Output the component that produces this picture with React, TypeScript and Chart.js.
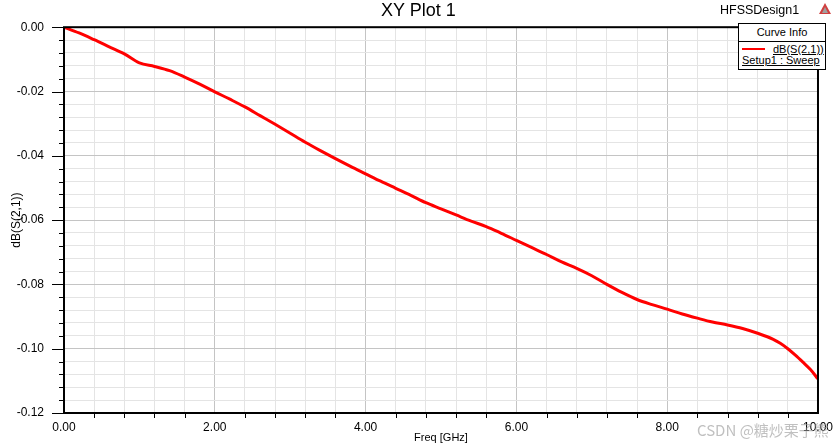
import React, { useEffect, useRef } from "react";
import { Chart, registerables } from "chart.js";

Chart.register(...registerables);

// ---- data ----
const freqGHz = [
  0, 0.2, 0.4, 0.6, 0.8, 1.0, 1.2, 1.4, 1.6, 1.8,
  2.0, 2.2, 2.4, 2.6, 2.8, 3.0, 3.2, 3.4, 3.6, 3.8,
  4.0, 4.2, 4.4, 4.6, 4.8, 5.0, 5.2, 5.4, 5.6, 5.8,
  6.0, 6.2, 6.4, 6.6, 6.8, 7.0, 7.2, 7.4, 7.6, 7.8,
  8.0, 8.2, 8.4, 8.6, 8.8, 9.0, 9.2, 9.4, 9.5, 9.6,
  9.7, 9.8, 9.9, 10.0,
];
const dbS21 = [
  0, -0.0018, -0.0039, -0.0061, -0.0083, -0.0111, -0.0122, -0.0135, -0.0155, -0.0177,
  -0.0201, -0.0224, -0.0248, -0.0275, -0.0302, -0.0330, -0.0358, -0.0384, -0.0409, -0.0433,
  -0.0456, -0.0479, -0.0501, -0.0523, -0.0546, -0.0565, -0.0584, -0.0603, -0.0620, -0.0641,
  -0.0663, -0.0685, -0.0707, -0.0730, -0.0750, -0.0773, -0.0800, -0.0825, -0.0847, -0.0863,
  -0.0877, -0.0892, -0.0905, -0.0917, -0.0926, -0.0937, -0.0952, -0.0970, -0.0983, -0.1000,
  -0.1020, -0.1042, -0.1065, -0.1094,
];

// tick labels (major) and minor tick steps
const xMajorTicks = [0, 2, 4, 6, 8, 10];
const yMajorTicks = [0, -0.02, -0.04, -0.06, -0.08, -0.1, -0.12];
const xMinorStep = 0.4;
const yMinorStep = 0.004;

const X_MIN = 0;
const X_MAX = 10;
const Y_MIN = -0.12;
const Y_MAX = 0;

const xTickValues: number[] = [];
for (let i = 0; i <= Math.round((X_MAX - X_MIN) / xMinorStep); i++) {
  xTickValues.push(Number((X_MIN + i * xMinorStep).toFixed(4)));
}
const yTickValues: number[] = [];
for (let i = 0; i <= Math.round((Y_MAX - Y_MIN) / yMinorStep); i++) {
  yTickValues.push(Number((Y_MAX - i * yMinorStep).toFixed(4)));
}

const isMajor = (v: number, majors: number[]) =>
  majors.some((m) => Math.abs(m - v) < 1e-7);

const FONT = "'Liberation Sans', Arial, sans-serif";
const MAJOR_GRID = "#c4c4c4";
const MINOR_GRID = "#e4e4e4";

const framePlugin = {
  id: "hfssFrame",
  afterDraw(chart: any) {
    const { ctx, chartArea: a, scales } = chart;
    ctx.save();
    ctx.strokeStyle = "#000";
    ctx.lineWidth = 1;
    for (const v of yTickValues) {
      const py = Math.round(scales.y.getPixelForValue(v)) + 0.5;
      const len = isMajor(v, yMajorTicks) ? 12 : 5;
      ctx.beginPath();
      ctx.moveTo(a.left - len, py);
      ctx.lineTo(a.left, py);
      ctx.stroke();
    }
    for (const v of xTickValues) {
      if (isMajor(v, xMajorTicks)) continue;
      const px = Math.round(scales.x.getPixelForValue(v)) + 0.5;
      ctx.beginPath();
      ctx.moveTo(px, a.bottom);
      ctx.lineTo(px, a.bottom + 5);
      ctx.stroke();
    }
    ctx.lineWidth = 2;
    ctx.strokeRect(a.left, a.top, a.right - a.left, a.bottom - a.top);
    ctx.restore();
  },
};

export default function App() {
  const canvasRef = useRef<HTMLCanvasElement | null>(null);

  useEffect(() => {
    if (!canvasRef.current) return;
    const chart = new Chart(canvasRef.current, {
      type: "line",
      data: {
        datasets: [
          {
            label: "dB(S(2,1))",
            data: freqGHz.map((f, i) => ({ x: f, y: dbS21[i] })),
            borderColor: "#ff0000",
            borderWidth: 3,
            pointRadius: 0,
            cubicInterpolationMode: "monotone",
            fill: false,
          },
        ],
      },
      options: {
        responsive: false,
        animation: false,
        layout: { padding: { top: 25, right: 22, left: 0, bottom: 0 } },
        plugins: {
          legend: { display: false },
          title: { display: false },
          tooltip: { enabled: false },
        },
        scales: {
          x: {
            type: "linear",
            min: X_MIN,
            max: X_MAX,
            afterBuildTicks: (scale: any) => {
              scale.ticks = xTickValues.map((value) => ({ value }));
            },
            afterFit: (scale: any) => {
              scale.height = 34;
            },
            border: { display: false },
            grid: {
              drawTicks: false,
              lineWidth: 1,
              color: (c: any) =>
                isMajor(c.tick?.value ?? 0, xMajorTicks) ? MAJOR_GRID : MINOR_GRID,
            },
            ticks: {
              autoSkip: false,
              maxRotation: 0,
              padding: 7,
              color: "#000",
              font: { family: FONT, size: 12 },
              callback: (v: any) =>
                isMajor(Number(v), xMajorTicks) ? Number(v).toFixed(2) : "",
            },
            title: {
              display: true,
              text: "Freq [GHz]",
              color: "#000",
              font: { family: FONT, size: 11 },
              padding: { top: 0, bottom: 2 },
            },
          },
          y: {
            type: "linear",
            min: Y_MIN,
            max: Y_MAX,
            afterBuildTicks: (scale: any) => {
              scale.ticks = yTickValues.map((value) => ({ value }));
            },
            afterFit: (scale: any) => {
              scale.width = 64;
            },
            border: { display: false },
            grid: {
              drawTicks: false,
              lineWidth: 1,
              color: (c: any) =>
                isMajor(c.tick?.value ?? 0, yMajorTicks) ? MAJOR_GRID : MINOR_GRID,
            },
            ticks: {
              autoSkip: false,
              padding: 20,
              color: "#000",
              font: { family: FONT, size: 12 },
              callback: (v: any) =>
                isMajor(Number(v), yMajorTicks) ? Number(v).toFixed(2) : "",
            },
            title: {
              display: true,
              text: "dB(S(2,1))",
              color: "#000",
              font: { family: FONT, size: 12 },
              padding: { top: 9, bottom: 0 },
            },
          },
        },
      },
      plugins: [framePlugin],
    } as any);
    return () => chart.destroy();
  }, []);

  const txt: React.CSSProperties = {
    position: "absolute",
    whiteSpace: "nowrap",
    fontFamily: FONT,
    color: "#000",
  };

  return (
    <div
      style={{
        position: "absolute",
        left: 0,
        top: 0,
        width: 840,
        height: 447,
        background: "#fff",
        overflow: "hidden",
      }}
    >
      <canvas ref={canvasRef} width={840} height={447} style={{ display: "block" }} />
      <div style={{ ...txt, left: 381, top: 0, fontSize: 18, lineHeight: "21px" }}>XY Plot 1</div>
      <div style={{ ...txt, left: 720, top: 3, fontSize: 12.5, lineHeight: "15px" }}>HFSSDesign1</div>
      <svg
        style={{ position: "absolute", left: 819, top: 3 }}
        width={12}
        height={11}
        viewBox="0 0 12 11"
      >
        <polygon points="6,0 12,11 0,11" fill="#d04040" />
        <polygon points="6,4 9,10 3,10" fill="#a0a0a0" />
      </svg>
      <div
        style={{
          position: "absolute",
          left: 738,
          top: 23,
          width: 88,
          height: 47,
          boxSizing: "border-box",
          border: "1px solid #000",
          background: "#fff",
        }}
      >
        <div
          style={{
            ...txt,
            left: 0,
            width: 86,
            top: 2,
            fontSize: 11,
            lineHeight: "13px",
            textAlign: "center",
          }}
        >
          Curve Info
        </div>
        <div style={{ position: "absolute", left: 0, top: 17, width: 86, height: 1, background: "#000" }} />
        <div style={{ position: "absolute", left: 3, top: 24, width: 23, height: 2, background: "#ff0000" }} />
        <div
          style={{
            ...txt,
            left: 34,
            top: 19,
            fontSize: 11,
            lineHeight: "13px",
            textDecoration: "underline",
          }}
        >
          dB(S(2,1))
        </div>
        <div
          style={{
            ...txt,
            left: 3,
            top: 30,
            fontSize: 11,
            lineHeight: "13px",
            textDecoration: "underline",
          }}
        >
          Setup1 : Sweep
        </div>
      </div>
      <div
        style={{
          ...txt,
          left: 697,
          top: 420,
          fontSize: 15,
          lineHeight: "20px",
          color: "rgba(150,150,150,0.6)",
          fontFamily: "'Noto Sans CJK SC', 'Liberation Sans', sans-serif",
        }}
      >
        CSDN @糖炒栗子熊
      </div>
    </div>
  );
}
